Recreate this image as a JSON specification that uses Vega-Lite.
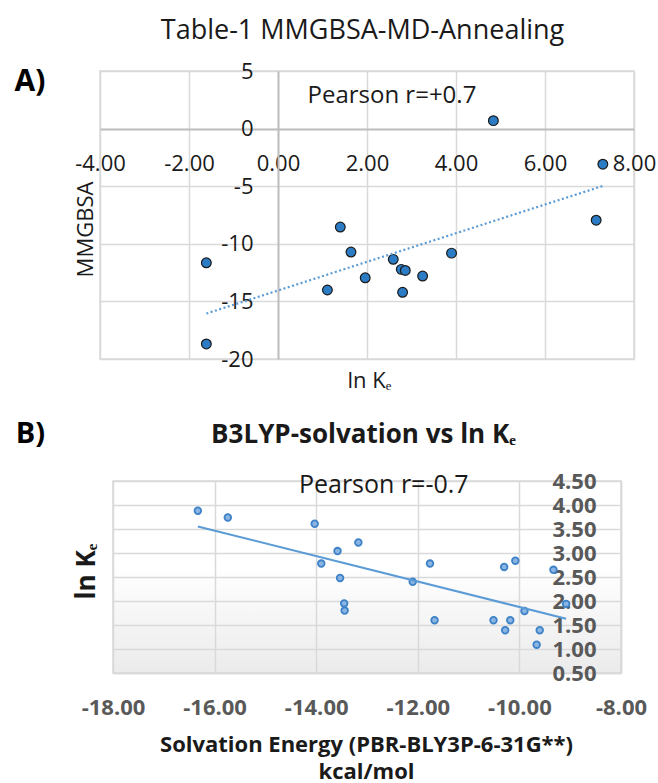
{
  "$schema": "https://vega.github.io/schema/vega-lite/v6.json",
  "padding": {"left": 13, "top": 15, "right": 0, "bottom": 0},
  "spacing": 26,
  "background": "white",
  "config": {
    "font": "Open Sans",
    "axis": {"labelOverlap": false, "labelFlush": false, "labelBound": false, "ticks": false, "tickSize": 0}
  },
  "vconcat": [
    {
      "width": 534,
      "height": 288,
      "view": {"stroke": "#d9d9d9", "strokeWidth": 1.5},
      "data": {"values": [
        {"lnKe": -1.61, "MMGBSA": -11.65},
        {"lnKe": -1.61, "MMGBSA": -18.69},
        {"lnKe": 1.40, "MMGBSA": -8.55},
        {"lnKe": 1.64, "MMGBSA": -10.72},
        {"lnKe": 1.11, "MMGBSA": -14.01},
        {"lnKe": 4.84, "MMGBSA": 0.69},
        {"lnKe": 7.30, "MMGBSA": -3.09},
        {"lnKe": 7.15, "MMGBSA": -7.95},
        {"lnKe": 1.96, "MMGBSA": -12.95},
        {"lnKe": 2.59, "MMGBSA": -11.35},
        {"lnKe": 2.77, "MMGBSA": -12.22},
        {"lnKe": 2.86, "MMGBSA": -12.31},
        {"lnKe": 2.80, "MMGBSA": -14.21},
        {"lnKe": 3.25, "MMGBSA": -12.80},
        {"lnKe": 3.90, "MMGBSA": -10.81}
      ]},
      "layer": [
        {
          "mark": {"type": "circle", "size": 95, "fill": "#2b7cc4", "stroke": "#1a1a1a", "strokeWidth": 1.2, "opacity": 1},
          "encoding": {
            "x": {"field": "lnKe", "type": "quantitative",
              "scale": {"domain": [-4, 8], "nice": false, "zero": false},
              "axis": {"orient": "bottom", "offset": -230, "values": [-4, -2, 0, 2, 4, 6, 8],
                "labelExpr": "replace(format(datum.value, '.2f'), '−', '-')",
                "labelFontSize": 22, "labelColor": "#1a1a1a", "labelPadding": 34, "labelBaseline": "middle",
                "domainColor": "#bfbfbf", "domainWidth": 2,
                "grid": true, "gridColor": "#d9d9d9", "gridWidth": 1.5,
                "title": "ln Kₑ", "titleFontSize": 22, "titleFontWeight": "normal", "titleColor": "#1a1a1a",
                "titleX": 269, "titleY": 258, "titleBaseline": "alphabetic", "titleAlign": "center"}},
            "y": {"field": "MMGBSA", "type": "quantitative",
              "scale": {"domain": [-20, 5], "nice": false, "zero": false},
              "axis": {"orient": "left", "offset": -178, "values": [-20, -15, -10, -5, 0, 5],
                "labelExpr": "replace(format(datum.value, 'd'), '−', '-')",
                "labelFontSize": 22, "labelColor": "#1a1a1a", "labelPadding": 25, "labelAlign": "right", "labelBaseline": "middle",
                "domainColor": "#bfbfbf", "domainWidth": 2,
                "grid": true, "gridColor": "#d9d9d9", "gridWidth": 1.5,
                "title": "MMGBSA", "titleFontSize": 22, "titleFontWeight": "normal", "titleColor": "#1a1a1a",
                "titleX": -193, "titleY": 158, "titleBaseline": "middle", "titleAlign": "center"}}
          }
        },
        {
          "transform": [{"regression": "MMGBSA", "on": "lnKe"}],
          "mark": {"type": "line", "color": "#5b9bd5", "strokeWidth": 2.2, "strokeDash": [2, 2.5]},
          "encoding": {
            "x": {"field": "lnKe", "type": "quantitative",
              "axis": {"orient": "top", "labels": false, "domain": false, "grid": false, "ticks": false,
                "title": "Table-1 MMGBSA-MD-Annealing", "titleFontSize": 27, "titleFontWeight": "normal", "titleColor": "#1a1a1a",
                "titleX": 262, "titleY": -32.6, "titleBaseline": "alphabetic", "titleAlign": "center"}},
            "y": {"field": "MMGBSA", "type": "quantitative",
              "axis": {"orient": "left", "labels": false, "domain": false, "grid": false, "ticks": false,
                "title": "A)", "titleAngle": 0, "titleFontSize": 30, "titleFontWeight": "bold", "titleColor": "#000000",
                "titleX": -86, "titleY": 19.4, "titleAlign": "left", "titleBaseline": "alphabetic"}}
          }
        },
        {
          "data": {"values": [{}]},
          "mark": {"type": "text", "fontSize": 24, "align": "center", "baseline": "alphabetic", "color": "#1a1a1a"},
          "encoding": {
            "x": {"datum": 2.56, "type": "quantitative", "axis": null},
            "y": {"datum": 2.19, "type": "quantitative", "axis": null},
            "text": {"value": "Pearson r=+0.7"}
          }
        }
      ],
      "resolve": {"axis": {"x": "independent", "y": "independent"}}
    },
    {"hconcat": [
    {
      "width": 1,
      "height": 1,
      "view": {"stroke": null},
      "data": {"values": [{}]},
      "mark": {"type": "point", "opacity": 0, "size": 0, "strokeWidth": 0},
      "encoding": {}
    },
    {
      "width": 508,
      "height": 192,
      "view": {"stroke": "#d9d9d9", "strokeWidth": 1.5,
        "fill": {"gradient": "linear", "x1": 0, "y1": 0, "x2": 0, "y2": 1,
          "stops": [{"offset": 0, "color": "#ffffff"}, {"offset": 0.45, "color": "#ffffff"}, {"offset": 1, "color": "#ebebeb"}]}},
      "data": {"values": [
        {"energy": -16.33, "lnKe": 3.88},
        {"energy": -15.74, "lnKe": 3.74},
        {"energy": -14.03, "lnKe": 3.61},
        {"energy": -13.17, "lnKe": 3.22},
        {"energy": -13.58, "lnKe": 3.04},
        {"energy": -13.90, "lnKe": 2.78},
        {"energy": -13.53, "lnKe": 2.48},
        {"energy": -13.45, "lnKe": 1.95},
        {"energy": -13.44, "lnKe": 1.80},
        {"energy": -12.10, "lnKe": 2.40},
        {"energy": -11.76, "lnKe": 2.78},
        {"energy": -11.67, "lnKe": 1.60},
        {"energy": -10.30, "lnKe": 2.71},
        {"energy": -10.08, "lnKe": 2.84},
        {"energy": -10.51, "lnKe": 1.60},
        {"energy": -10.18, "lnKe": 1.60},
        {"energy": -10.28, "lnKe": 1.39},
        {"energy": -9.90, "lnKe": 1.79},
        {"energy": -9.33, "lnKe": 2.65},
        {"energy": -9.08, "lnKe": 1.94},
        {"energy": -9.60, "lnKe": 1.39},
        {"energy": -9.66, "lnKe": 1.09}
      ]},
      "layer": [
        {
          "mark": {"type": "circle", "size": 44, "fill": "#8ab4e2", "stroke": "#3d82c8", "strokeWidth": 1.8, "opacity": 1},
          "encoding": {
            "x": {"field": "energy", "type": "quantitative",
              "scale": {"domain": [-18, -8], "nice": false, "zero": false},
              "axis": {"orient": "bottom", "values": [-18, -16, -14, -12, -10, -8],
                "labelExpr": "replace(format(datum.value, '.2f'), '−', '-')",
                "labelFontSize": 22, "labelFontWeight": "bold", "labelColor": "#595959", "labelPadding": 34, "labelBaseline": "middle",
                "domainColor": "#d9d9d9", "domainWidth": 1.5,
                "grid": true, "gridColor": "#d9d9d9", "gridWidth": 1.5,
                "title": ["Solvation Energy (PBR-BLY3P-6-31G**)", "kcal/mol"],
                "titleFontSize": 22, "titleFontWeight": "bold", "titleColor": "#1a1a1a", "titleLineHeight": 27,
                "titleX": 253, "titleY": 78, "titleBaseline": "alphabetic", "titleAlign": "center"}},
            "y": {"field": "lnKe", "type": "quantitative",
              "scale": {"domain": [0.5, 4.5], "nice": false, "zero": false},
              "axis": {"orient": "left", "offset": -508, "values": [0.5, 1, 1.5, 2, 2.5, 3, 3.5, 4, 4.5],
                "format": ".2f",
                "labelFontSize": 22, "labelFontWeight": "bold", "labelColor": "#595959", "labelPadding": 25, "labelAlign": "right", "labelBaseline": "middle",
                "domainColor": "#d9d9d9", "domainWidth": 1.5,
                "grid": true, "gridColor": "#d9d9d9", "gridWidth": 1.5,
                "title": "ln Kₑ", "titleFontSize": 26, "titleFontWeight": "bold", "titleColor": "#1a1a1a",
                "titleX": -535, "titleY": 90, "titleBaseline": "middle", "titleAlign": "center"}}
          }
        },
        {
          "transform": [{"regression": "lnKe", "on": "energy"}],
          "mark": {"type": "line", "color": "#5b9bd5", "strokeWidth": 2},
          "encoding": {
            "x": {"field": "energy", "type": "quantitative",
              "axis": {"orient": "top", "labels": false, "domain": false, "grid": false, "ticks": false,
                "title": "B3LYP-solvation vs ln Kₑ", "titleFontSize": 26, "titleFontWeight": "bold", "titleColor": "#1a1a1a",
                "titleX": 250, "titleY": -38.3, "titleBaseline": "alphabetic", "titleAlign": "center"}},
            "y": {"field": "lnKe", "type": "quantitative",
              "axis": {"orient": "left", "labels": false, "domain": false, "grid": false, "ticks": false,
                "title": "B)", "titleAngle": 0, "titleFontSize": 29, "titleFontWeight": "bold", "titleColor": "#000000",
                "titleX": -97.7, "titleY": -38.3, "titleAlign": "left", "titleBaseline": "alphabetic"}}
          }
        },
        {
          "data": {"values": [{}]},
          "mark": {"type": "text", "fontSize": 25, "align": "center", "baseline": "alphabetic", "color": "#1a1a1a"},
          "encoding": {
            "x": {"datum": -12.67, "type": "quantitative", "axis": null},
            "y": {"datum": 4.256, "type": "quantitative", "axis": null},
            "text": {"value": "Pearson r=-0.7"}
          }
        }
      ],
      "resolve": {"axis": {"x": "independent", "y": "independent"}}
    }
    ], "spacing": -87}
  ]
}
